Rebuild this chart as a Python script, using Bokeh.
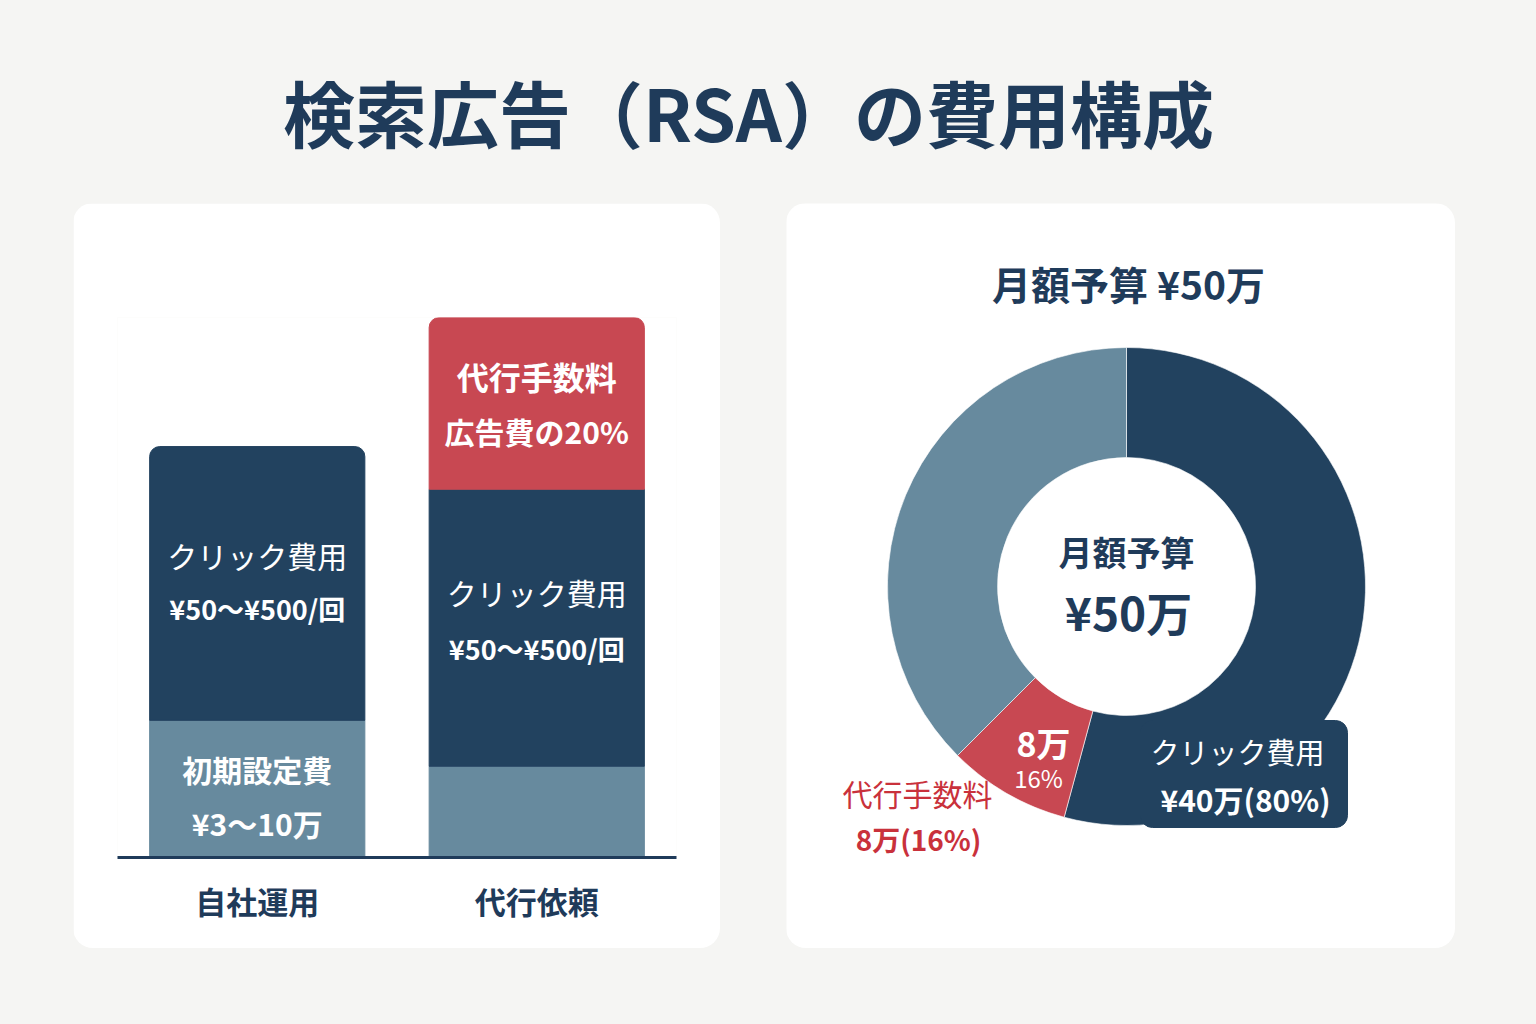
from math import radians

import numpy as np
from bokeh.plotting import figure
from bokeh.layouts import column, row
from bokeh.models import FactorRange, Range1d, Spacer, GlobalInlineStyleSheet
from bokeh.core.properties import value
from bokeh.embed import file_html
from bokeh.resources import INLINE

BG = "#f5f5f3"
NAVY = "#22425f"
STEEL = "#678a9e"
RED = "#c84852"
INK = "#1f3b5a"
RED_TEXT = "#c9313b"
JP = value("Noto Sans CJK JP")

# --- data ---
title_text = "検索広告（RSA）の費用構成"

categories = ["自社運用", "代行依頼"]
setup_cost = [25.4, 16.9]      # 初期設定費 (relative bar height)
click_cost = [50.7, 51.3]      # クリック費用
agency_fee = [0.0, 31.9]       # 代行手数料

bar_titles = [["初期設定費", "クリック費用", ""], ["", "クリック費用", "代行手数料"]]
bar_subs = [["¥3〜10万", "¥50〜¥500/回", ""], ["", "¥50〜¥500/回", "広告費の20%"]]

donut_title = "月額予算 ¥50万"
donut_names = ["クリック費用", "代行手数料", "その他"]
donut_shares = [54.2, 8.3, 37.5]   # percent of the ring as drawn
center_lines = ["月額予算", "¥50万"]
click_callout = ["クリック費用", "¥40万(80%)"]
fee_inner = ["8万", "16%"]
fee_outer = ["代行手数料", "8万(16%)"]


def card(fig):
    fig.background_fill_color = "white"
    fig.border_fill_color = "white"
    fig.outline_line_color = None
    fig.grid.grid_line_color = None
    fig.styles = {"border-radius": "20px", "overflow": "hidden"}
    return fig


def label(fig, x, y, txt, size, color="white", style="bold"):
    fig.text(x=[x], y=[y], text=[txt], text_align="center", text_baseline="middle",
             text_font=JP, text_font_size=size, text_color=color, text_font_style=style)


# --- title strip ---
head = figure(width=1520, height=203, x_range=Range1d(0, 1520), y_range=Range1d(0, 203),
              x_axis_type=None, y_axis_type=None, min_border=0, toolbar_location=None,
              frame_align=False, output_backend="svg")
head.background_fill_color = BG
head.border_fill_color = BG
head.outline_line_color = None
head.grid.grid_line_color = None
label(head, 748, 93, title_text, "72px", INK)

# --- stacked bars ---
bars = figure(width=647, height=745, x_range=FactorRange(factors=categories, range_padding=0),
              y_range=Range1d(0, 100), y_axis_type=None, toolbar_location=None,
              min_border_left=44, min_border_right=44, min_border_top=114, min_border_bottom=91,
              frame_align=False, output_backend="svg")
card(bars)

layers = [setup_cost, click_cost, agency_fee]
layer_colors = [STEEL, NAVY, RED]
for i, cat in enumerate(categories):
    vals = [layer[i] for layer in layers]
    tops = np.cumsum(vals)
    last = max(j for j, v in enumerate(vals) if v > 0)
    for j, v in enumerate(vals):
        if v <= 0:
            continue
        bars.vbar(x=[cat], bottom=[tops[j] - v], top=[tops[j]], width=0.77,
                  color=layer_colors[j], border_radius=(10, 10, 0, 0) if j == last else 0)

# label heights inside segments
label_y = [[(16.3, 6.3), (56.1, 46.1), None], [None, (49.1, 38.7), (89.1, 78.9)]]
title_sizes = ["30px", "30px", "32px"]
for i, cat in enumerate(categories):
    for j in range(3):
        if label_y[i][j] is None:
            continue
        ty, sy = label_y[i][j]
        label(bars, cat, ty, bar_titles[i][j], title_sizes[j],
              style="normal" if j == 1 else "bold")
        label(bars, cat, sy, bar_subs[i][j], "27px" if j == 1 else "30px")

xa = bars.xaxis[0]
xa.axis_line_color = INK
xa.axis_line_width = 3
xa.major_tick_line_color = None
xa.major_tick_out = 0
xa.major_label_standoff = 20
xa.major_label_text_font = "Noto Sans CJK JP"
xa.major_label_text_font_size = "31px"
xa.major_label_text_font_style = "bold"
xa.major_label_text_color = INK

# --- donut ---
donut = figure(width=669, height=745, x_range=Range1d(-340, 329), y_range=Range1d(-362, 383),
               x_axis_type=None, y_axis_type=None, min_border=0, toolbar_location=None,
               frame_align=False, output_backend="svg")
card(donut)

cum = np.concatenate([[0], np.cumsum(donut_shares)])
ring_colors = [NAVY, RED, STEEL]
for k, name in enumerate(donut_names):
    donut.annular_wedge(x=0, y=0, inner_radius=129, outer_radius=239,
                        start_angle=radians(90 - 3.6 * cum[k + 1]),
                        end_angle=radians(90 - 3.6 * cum[k]),
                        color=ring_colors[k], line_color="white", line_width=0.6)

label(donut, 2, 304, donut_title, "39px", INK)
label(donut, 0, 35, center_lines[0], "34px", INK)
label(donut, 2, -24, center_lines[1], "46px", INK)

donut.quad(left=14, right=221, top=-134, bottom=-241, color=NAVY, border_radius=12)
label(donut, 111, -164, click_callout[0], "29px", style="normal")
label(donut, 119, -212, click_callout[1], "30px")

label(donut, -83, -156, fee_inner[0], "34px")
label(donut, -88, -191, fee_inner[1], "24px", style="normal")
label(donut, -209, -206, fee_outer[0], "30px", RED_TEXT, style="normal")
label(donut, -208, -252, fee_outer[1], "28px", RED_TEXT)

layout = column(
    head,
    row(Spacer(width=73, height=745), bars, Spacer(width=66, height=745), donut),
    stylesheets=[GlobalInlineStyleSheet(
        css="html, body { background-color: #f5f5f3; margin: 0; padding: 0; }")],
)

open("out.html", "w").write(file_html(layout, INLINE))
